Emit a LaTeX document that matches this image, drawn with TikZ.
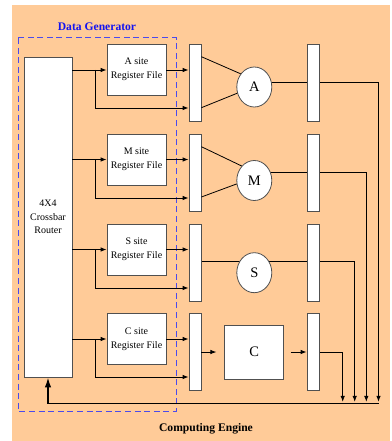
\documentclass[tikz,border=0pt]{standalone}
\usepackage{fontspec}
\setmainfont{Liberation Serif}
\usetikzlibrary{arrows.meta,shapes.geometric}
\pgfdeclarelayer{bgzero}
\pgfdeclarelayer{lines}
\pgfsetlayers{bgzero,lines,main}
\definecolor{bgorange}{HTML}{FFCB98}
\definecolor{boxgray}{HTML}{505050}
\definecolor{dgblue}{HTML}{1414F0}
\definecolor{dashblue}{HTML}{4A4AEC}
\begin{document}
\begin{tikzpicture}[x=1pt,y=-1pt,
  box/.style={draw=boxgray,fill=white,line width=0.8pt,inner sep=0pt},
  bar/.style={box,minimum width=12pt,minimum height=77pt},
  rf/.style={box,minimum width=59pt,minimum height=51pt,align=center,font=\fontsize{10}{14}\selectfont},
  op/.style={box,ellipse,minimum width=35pt,minimum height=40pt,font=\fontsize{14.5}{16}\selectfont},
  ln/.style={line width=0.8pt,black},
  arr/.style={ln,-{Latex[length=6pt,width=4.5pt]}},
  fbarr/.style={line width=1.6pt,black,-{Latex[length=10pt,width=6.5pt]}},
  title/.style={font=\bfseries\fontsize{11.6}{14}\selectfont}
]
\useasboundingbox (0,0) rectangle (391,441);
\begin{pgfonlayer}{bgzero}
\fill[bgorange] (12,5) rectangle (390,441);
\end{pgfonlayer}

% titles
\node[title,text=dgblue] (dg) at (97,27) {Data Generator};
\node[title] (ce) at (206,429) {Computing Engine};

% crossbar
\node[box,minimum width=48pt,minimum height=320pt,align=center,font=\fontsize{10}{13.5}\selectfont] (xbar) at (48,217) {4X4\\Crossbar\\Router};

% register files
\node[rf] (rfA) at (136.5,69.5) {A site\\Register File};
\node[rf] (rfM) at (136.5,159.5) {M site\\Register File};
\node[rf] (rfS) at (136.5,249.5) {S site\\Register File};
\node[rf] (rfC) at (136.5,339) {C site\\Register File};

% input bars
\node[bar] (barA) at (195,82.5) {};
\node[bar] (barM) at (195,172.5) {};
\node[bar] (barS) at (195,262.5) {};
\node[bar] (barC) at (195,352) {};
% output bars
\node[bar] (oA) at (313,82.5) {};
\node[bar] (oM) at (313,172.5) {};
\node[bar] (oS) at (313,262.5) {};
\node[bar] (oC) at (313,352) {};

% operators
\node[op] (cA) at (254.3,87) {A};
\node[op] (cM) at (254.3,180.5) {M};
\node[op] (cS) at (254.3,272.7) {S};
\node[box,minimum width=59pt,minimum height=54pt,font=\fontsize{14.5}{16}\selectfont] (boxC) at (254.3,352.2) {C};

% coordinates
\coordinate (jA) at (95,70);
\coordinate (jM) at (95,159.5);
\coordinate (jS) at (95,249.5);
\coordinate (jC) at (95,339);
\coordinate (dA) at (378.5,401.8);
\coordinate (dM) at (366.3,401.8);
\coordinate (dS) at (354.7,401.8);
\coordinate (dC) at (342.7,401.8);
\coordinate (fb) at (378.5,403.3);

\begin{pgfonlayer}{lines}
\draw[dashblue,line width=1pt,dash pattern=on 6pt off 3.6pt] (18,38) rectangle (176,411);
\end{pgfonlayer}

% row A
\draw[arr] (xbar.east |- jA) -- (rfA.west |- jA);
\draw[arr] (jA) |- (barA.west |- 0,108);
\draw[arr] (rfA.east |- jA) -- (barA.west |- jA);
\draw[ln] (barA.east |- 0,56.7) -- (cA.136);
\draw[ln] (barA.east |- 0,107.7) -- (cA.200);
% row M
\draw[arr] (xbar.east |- jM) -- (rfM.west |- jM);
\draw[arr] (jM) |- (barM.west |- 0,198);
\draw[arr] (rfM.east |- jM) -- (barM.west |- jM);
\draw[ln] (barM.east |- 0,146.7) -- (cM.131);
\draw[ln] (barM.east |- 0,197) -- (cM.191);
% row S
\draw[arr] (xbar.east |- jS) -- (rfS.west |- jS);
\draw[arr] (jS) |- (barS.west |- 0,288);
\draw[arr] (rfS.east |- jS) -- (barS.west |- jS);
% row C
\draw[arr] (xbar.east |- jC) -- (rfC.west |- jC);
\draw[arr] (jC) |- (barC.west |- 0,377);
\draw[arr] (rfC.east |- jC) -- (barC.west |- jC);
\draw[arr] (barC.east) -- ([xshift=-8pt]boxC.west |- barC.east);
\draw[arr] ([xshift=6.5pt]boxC.east |- oC.west) -- (oC.west);

\begin{pgfonlayer}{lines}
\draw[arr] (cA |- 0,82.3) -| (dA);
\draw[arr] (cM |- 0,172.7) -| (dM);
\draw[arr] (barS |- 0,261.7) -| (dS);
\draw[arr] (oC) -| (dC);
\draw[ln,line width=1.2pt] (fb) -- (xbar.south |- fb);
\end{pgfonlayer}
\draw[fbarr] ([yshift=-0.4pt]xbar.south |- fb) -- (xbar.south);
\end{tikzpicture}
\end{document}
